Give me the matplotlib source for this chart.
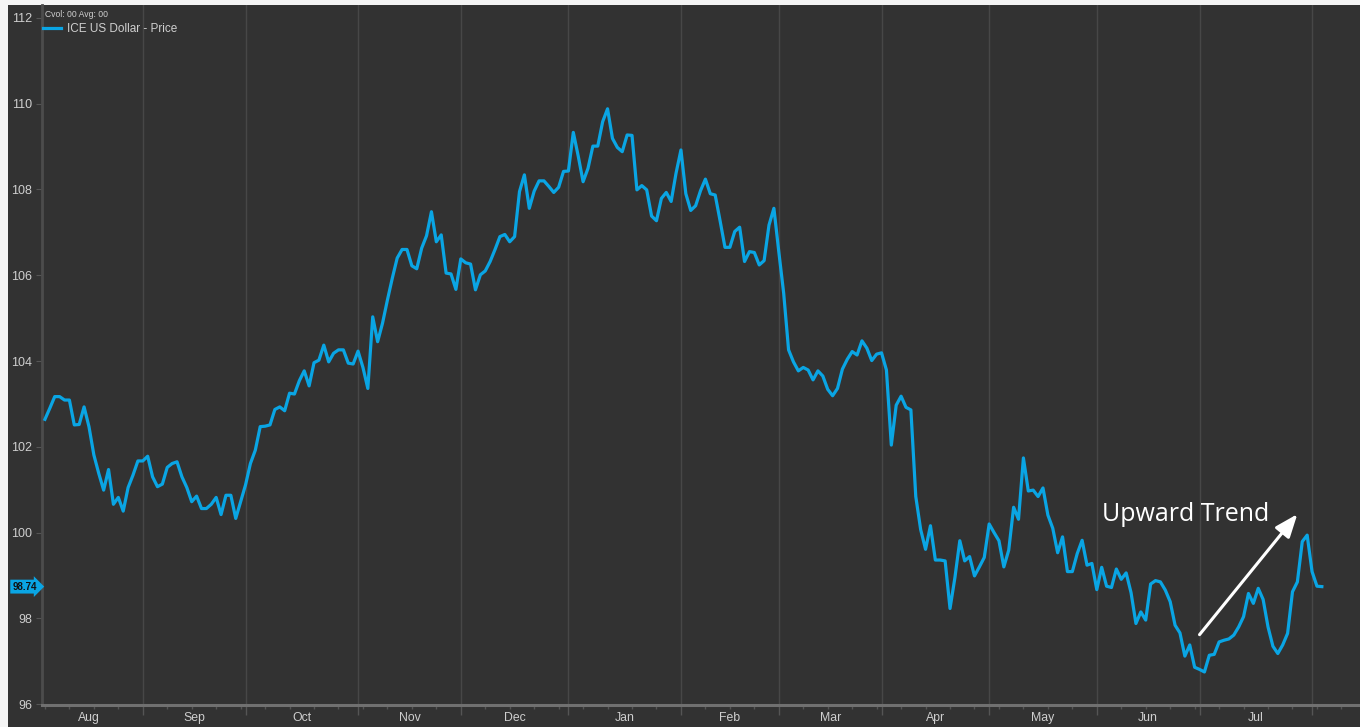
import matplotlib
matplotlib.use("Agg")
import matplotlib.pyplot as plt
import matplotlib.transforms as mtransforms
from matplotlib.patches import Rectangle
import numpy as np
import pandas as pd

BG = "#323232"
LINE = "#0aa5e4"
TXT = "#cfcfcf"

# daily closes (weekdays), starting Mon 2024-08-05
START = "2024-08-05"
prices = [
    # Aug - early Oct 2024
    102.64, 102.90, 103.17, 103.17, 103.09, 103.09, 102.51, 102.52, 102.93, 102.47,
    101.81, 101.38, 100.99, 101.47, 100.66, 100.82, 100.50, 101.05, 101.34, 101.67,
    101.67, 101.78, 101.30, 101.07, 101.13, 101.52, 101.61, 101.65, 101.30, 101.05,
    100.72, 100.85, 100.56, 100.56, 100.66, 100.82, 100.42, 100.87, 100.87, 100.33,
    100.72, 101.11, 101.61, 101.92, 102.47,
    # Oct - Nov
    102.48, 102.51, 102.87, 102.93, 102.84, 103.25, 103.23, 103.54, 103.77, 103.42,
    103.96, 104.02, 104.37, 103.98, 104.18, 104.26, 104.26, 103.95, 103.93, 104.23,
    103.85, 103.36, 105.03, 104.45, 104.88, 105.42, 105.93, 106.40, 106.60, 106.60,
    106.22, 106.15, 106.63, 106.92, 107.48, 106.78, 106.94, 106.05, 106.03, 105.67,
    106.38,
    # Dec - Jan
    106.29, 106.26, 105.66, 106.01, 106.10, 106.32, 106.60, 106.90, 106.95, 106.78,
    106.90, 107.95, 108.34, 107.56, 107.96, 108.20, 108.20, 108.07, 107.93, 108.05,
    108.42, 108.43, 109.33, 108.78, 108.18, 108.49, 109.01, 109.01, 109.58, 109.88,
    109.19, 108.98, 108.88, 109.27, 109.26, 107.99, 108.09, 107.99, 107.38, 107.27,
    107.79, 107.93, 107.72,
    # Feb - Mar
    108.38, 108.92, 107.90, 107.51, 107.62, 107.97, 108.24, 107.90, 107.87, 107.27,
    106.65, 106.65, 107.02, 107.12, 106.32, 106.55, 106.53, 106.24, 106.34, 107.17,
    107.56, 106.55, 105.58, 104.26, 103.98, 103.77, 103.85, 103.79, 103.56, 103.77,
    103.65, 103.34, 103.19, 103.36, 103.81, 104.04, 104.22, 104.14, 104.47, 104.30,
    104.01, 104.16, 104.19, 103.79, 102.04, 102.97,
    # Apr - May
    103.18, 102.92, 102.86, 100.84, 100.07, 99.61, 100.16, 99.36, 99.36, 99.34,
    98.23, 98.95, 99.81, 99.34, 99.44, 98.99, 99.20, 99.42, 100.20, 100.00,
    99.81, 99.20, 99.59, 100.59, 100.31, 101.74, 100.97, 100.99, 100.84, 101.04,
    100.41, 100.10, 99.53, 99.90, 99.09, 99.09, 99.51, 99.82, 99.24, 99.28,
    # Jun - Aug 2025
    98.67, 99.19, 98.75, 98.72, 99.15, 98.91, 99.06, 98.60, 97.88, 98.15,
    97.96, 98.80, 98.88, 98.85, 98.66, 98.39, 97.84, 97.66, 97.12, 97.38,
    96.86, 96.81, 96.75, 97.14, 97.16, 97.45, 97.49, 97.52, 97.61, 97.80,
    98.04, 98.58, 98.35, 98.70, 98.44, 97.80, 97.35, 97.18, 97.38, 97.65,
    98.62, 98.85, 99.79, 99.94, 99.09, 98.75, 98.74,
]
last_price = 98.74
y_ticks = [96, 98, 100, 102, 104, 106, 108, 110, 112]
trend_label = "Upward Trend"
trend_label_at = ("2025-06-03", 100.43)
trend_from = ("2025-07-01", 97.62)
trend_to = ("2025-07-29", 100.43)

dates = pd.bdate_range(START, periods=len(prices))
idx = np.arange(len(prices))
full = pd.bdate_range("2024-08-01", "2025-08-31")
pos = {d: i for i, d in enumerate(full)}
off = pos[dates[0]]
XMIN, XMAX = -0.6, 268.8


def xi(d):
    return pos[pd.Timestamp(d)] - off


fig = plt.figure(figsize=(13.6, 7.27), dpi=100, facecolor="#f4f4f4")
fig.patches.append(Rectangle((8 / 1360, 0), 1, 722 / 727, transform=fig.transFigure,
                             fc=BG, ec="none", zorder=-10))
ax = fig.add_axes([42 / 1360, 22 / 727, 1 - 42 / 1360, 700 / 727])
ax.set_zorder(5)
ax.set_facecolor(BG)

ax.plot(idx, prices, color=LINE, lw=2.3, solid_joinstyle="round",
        label="ICE US Dollar - Price", zorder=3)

# month starts -> gridlines, weekly -> small ticks
month_starts = [d for d in full if d == full[full.to_period("M") == d.to_period("M")][0]]
mx = [pos[d] - off for d in month_starts]
ax.set_xticks([m for m in mx if XMIN <= m <= XMAX])
ax.set_xticklabels([])
mondays = [pos[d] - off for d in full if d.weekday() == 0]
ax.set_xticks([m for m in mondays if XMIN <= m <= XMAX], minor=True)
ax.tick_params(axis="x", which="major", length=7, color="#555555", width=1)
ax.tick_params(axis="x", which="minor", length=3, color="#555555", width=1)
ax.grid(axis="x", which="major", color="#474747", lw=1)
ax.set_xlim(XMIN, XMAX)
ax.set_ylim(95.98, 112.3)

btf = mtransforms.blended_transform_factory(ax.transData, ax.transAxes)
for a, b in zip(month_starts[:-1], month_starts[1:]):
    mid = (pos[a] + pos[b]) / 2 - off
    if XMIN < mid < 262:
        ax.text(mid, -0.018, a.strftime("%b"), transform=btf, ha="center", va="center",
                color=TXT, fontsize=8.8, family="Liberation Sans")

ax.set_yticks(y_ticks)
ax.set_yticklabels([str(v) for v in y_ticks], color=TXT, fontsize=9, family="Liberation Sans")
ax.tick_params(axis="y", length=4, color="#555555", pad=3)

for s in ["top", "right"]:
    ax.spines[s].set_visible(False)
ax.spines["left"].set_color("#4c4c4c")
ax.spines["left"].set_linewidth(2)
ax.spines["bottom"].set_color("#707070")
ax.spines["bottom"].set_linewidth(2.2)

leg = ax.legend(loc="upper left", bbox_to_anchor=(-0.001, 0.977), frameon=False,
                handlelength=1.5, handletextpad=0.5, borderaxespad=0, borderpad=0.2,
                prop={"family": "Liberation Sans", "size": 8.5})
for t in leg.get_texts():
    t.set_color(TXT)
ax.text(0.002, 0.986, "Cvol: 00 Avg: 00", transform=ax.transAxes, ha="left", va="center",
        color=TXT, fontsize=6.2, family="Liberation Sans")

# last price tag
ytf = mtransforms.blended_transform_factory(ax.transAxes, ax.transData)
ax.text(-0.004, last_price, f"{last_price:.2f}", transform=ytf, ha="right", va="center",
        fontsize=7, fontweight="bold", color="#111111", family="Liberation Sans",
        bbox=dict(boxstyle="rarrow,pad=0.2", fc=LINE, ec="none"), clip_on=False, zorder=5)

# trend annotation
ax.annotate("", xy=(xi(trend_to[0]), trend_to[1]), xytext=(xi(trend_from[0]), trend_from[1]),
            arrowprops=dict(arrowstyle="-|>,head_length=1.4,head_width=0.55", color="white",
                            lw=2.2, shrinkA=0, shrinkB=0), zorder=4)
ax.text(xi(trend_label_at[0]), trend_label_at[1], trend_label, color="white", fontsize=18,
        family="Open Sans", ha="left", va="center", zorder=4)

fig.savefig("out.png", dpi=100, facecolor=fig.get_facecolor())
